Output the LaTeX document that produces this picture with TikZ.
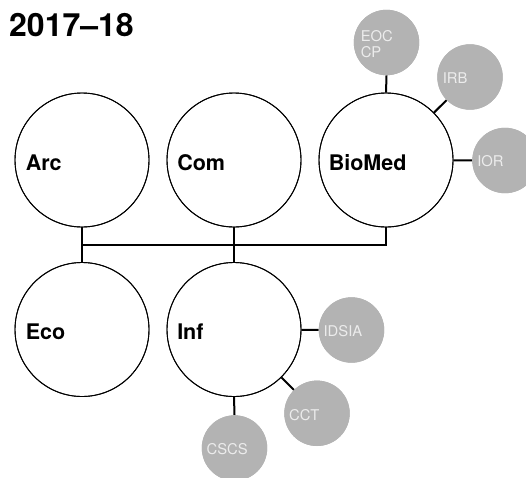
\documentclass[tikz,border=0pt]{standalone}
\usepackage{fontspec}
\setmainfont{TeX Gyre Heros}
\definecolor{unitgrey}{RGB}{179,179,179}
\definecolor{unittext}{RGB}{236,236,236}
\begin{document}
\begin{tikzpicture}[x=1pt,y=-1pt,
  bigc/.style={circle,draw=black,line width=0.9pt,fill=white,minimum size=134pt,inner sep=0pt},
  smallc/.style={circle,fill=unitgrey,minimum size=65.4pt,inner sep=0pt},
  biglab/.style={inner sep=0pt,anchor=base west,font=\bfseries\fontsize{21.5}{21.5}\selectfont},
  smalllab/.style={inner sep=0pt,anchor=base west,text=unittext,font=\fontsize{14.8}{16.3}\selectfont},
  conn/.style={line width=2pt}]
\useasboundingbox (0,0) rectangle (526,477);
\clip (0,0) rectangle (526,477);
% title
\node[inner sep=0pt,anchor=base west,font=\bfseries\fontsize{32}{32}\selectfont] (title) at (9,36) {2017–18};
% big circles
\node[bigc] (arc) at (82,160) {};
\node[bigc] (com) at (234,160) {};
\node[bigc] (biomed) at (386,160) {};
\node[bigc] (eco) at (82,329.5) {};
\node[bigc] (inf) at (234,329.5) {};
% small circles
\node[smallc] (eoc) at (386.5,42.5) {};
\node[smallc] (irb) at (470,77) {};
\node[smallc] (ior) at (505,160.5) {};
\node[smallc] (idsia) at (351.5,330) {};
\node[smallc] (cct) at (317,413.3) {};
\node[smallc] (cscs) at (234.5,448) {};
% connectors
\coordinate (j1) at (82,245);
\draw[conn] (arc.south) -- (eco.north);
\draw[conn] (com.south) -- (inf.north);
\draw[conn] (biomed.south) |- (j1);
\draw[conn] (eoc.south) -- (biomed.north);
\draw[conn] (biomed) -- (irb);
\draw[conn] (biomed) -- (ior);
\draw[conn] (inf) -- (idsia);
\draw[conn] (inf) -- (cct);
\draw[conn] (inf.south) -- (cscs.north);
% redraw circle outlines on top of connector ends
\foreach \n in {arc,com,biomed,eco,inf}{\draw[line width=0.9pt] (\n) circle (67pt);}
\foreach \n in {eoc,irb,ior,idsia,cct,cscs}{\fill[unitgrey] (\n) circle (32.7pt);}
% big labels
\node[biglab] (arcT) at ([xshift=11pt,yshift=-10pt]arc.west) {Arc};
\node[biglab] (comT) at ([xshift=10.5pt,yshift=-10pt]com.west) {Com};
\node[biglab] (biomedT) at ([xshift=10pt,yshift=-10pt]biomed.west) {BioMed};
\node[biglab] (ecoT) at ([xshift=11pt,yshift=-9.5pt]eco.west) {Eco};
\node[biglab] (infT) at ([xshift=10.5pt,yshift=-9.5pt]inf.west) {Inf};
% small labels
\node[smalllab] (eocT) at ([xshift=7pt,yshift=1.5pt]eoc.west) {EOC};
\node[smalllab] (eocT2) at ([xshift=7pt,yshift=-14.8pt]eoc.west) {CP};
\node[smalllab] (irbT) at ([xshift=5.5pt,yshift=-6.5pt]irb.west) {IRB};
\node[smalllab] (iorT) at ([xshift=5pt,yshift=-6pt]ior.west) {IOR};
\node[smalllab] (idsiaT) at ([xshift=4.8pt,yshift=-6pt]idsia.west) {IDSIA};
\node[smalllab] (cctT) at ([xshift=4.8pt,yshift=-6.7pt]cct.west) {CCT};
\node[smalllab] (cscsT) at ([xshift=4.8pt,yshift=-6pt]cscs.west) {CSCS};
\end{tikzpicture}
\end{document}
